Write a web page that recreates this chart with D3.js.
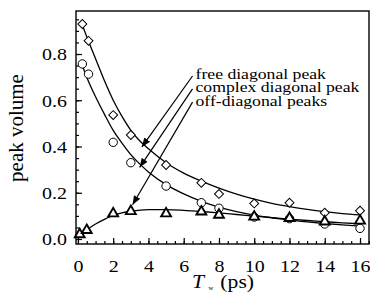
<!DOCTYPE html>
<html><head><meta charset="utf-8">
<script src="https://cdn.jsdelivr.net/npm/d3@7"></script>
<style>html,body{margin:0;padding:0;background:#fff;}svg{display:block;}</style>
</head><body>
<svg id="c" width="370" height="293"></svg>
<script>
// ---- data ----
const freeT   = [0.25, 0.6, 2, 3, 5, 7, 8, 10, 12, 14, 16];
const freeV   = [0.93, 0.857, 0.536, 0.45, 0.32, 0.243, 0.195, 0.154, 0.157, 0.114, 0.122];
const cplxT   = [0.25, 0.6, 2, 3, 5, 7, 8, 10, 12, 14, 16];
const cplxV   = [0.757, 0.713, 0.418, 0.33, 0.229, 0.157, 0.133, 0.095, 0.088, 0.065, 0.046];
const offT    = [0.1, 0.5, 2, 3, 5, 7, 8, 10, 12, 14, 16];
const offV    = [0.02, 0.038, 0.11, 0.12, 0.11, 0.118, 0.104, 0.096, 0.09, 0.075, 0.079];
// fitted curves
const fitT     = [0.2, 0.5, 1, 1.5, 2, 2.5, 3, 3.5, 4, 5, 6, 7, 8, 9, 10, 11, 12, 13, 14, 15, 16];
const fitFree  = [0.935, 0.875, 0.78, 0.685, 0.6, 0.53, 0.47, 0.425, 0.39, 0.33, 0.285, 0.25, 0.22, 0.194, 0.172, 0.154, 0.14, 0.128, 0.118, 0.11, 0.104];
const fitCplx  = [0.76, 0.70, 0.615, 0.54, 0.47, 0.415, 0.365, 0.325, 0.29, 0.235, 0.195, 0.163, 0.138, 0.118, 0.103, 0.092, 0.082, 0.074, 0.067, 0.061, 0.056];
const fitOffT  = [0.05, 0.5, 1, 1.5, 2, 2.5, 3, 4, 5, 6, 7, 8, 9, 10, 11, 12, 13, 14, 15, 16];
const fitOff   = [0.015, 0.04, 0.065, 0.085, 0.102, 0.113, 0.12, 0.127, 0.127, 0.124, 0.119, 0.113, 0.106, 0.099, 0.092, 0.086, 0.08, 0.075, 0.07, 0.066];
// annotations: label, arrow start (T, v), arrow tip (T, v)
const labels   = ["free diagonal peak", "complex diagonal peak", "off-diagonal peaks"];
const arrowFrom = [[6.5, 0.705], [6.5, 0.649], [6.5, 0.592]];
const arrowTo   = [[3.63, 0.398], [3.5, 0.31], [3.1, 0.148]];
const xTicks = [0, 2, 4, 6, 8, 10, 12, 14, 16];
const yTicks = [0.0, 0.2, 0.4, 0.6, 0.8];

// ---- drawing ----
const svg = d3.select("#c");
const L = 76, R = 369, T0 = 11, B = 244;
const x = d3.scaleLinear().domain([-0.11, 16.51]).range([L, R]);
const y = d3.scaleLinear().domain([-0.0216, 0.986]).range([B, T0]);
const font = "'Liberation Serif','Times New Roman',serif";
const SX = 1.14; // horizontal stretch of the lettering

svg.append("rect").attr("width",370).attr("height",293).attr("fill","#fff");

// axes with inward ticks
const xMinor = d3.range(0, 16.51, 0.5);
const yMinor = d3.range(0, 0.96, 0.05);
const gx = svg.append("g").attr("transform",`translate(0,${B})`);
gx.call(d3.axisBottom(x).tickValues(xMinor).tickSize(-3).tickFormat(""));
gx.select(".domain").remove();
const gx2 = svg.append("g").attr("transform",`translate(0,${B})`);
gx2.call(d3.axisBottom(x).tickValues(xTicks).tickSize(-6).tickFormat(d3.format("d")));
gx2.select(".domain").remove();
gx2.selectAll(".tick text").attr("font-family",font).attr("font-size",17.5).attr("fill","#000")
  .attr("y",0).attr("dy",0).attr("transform",`translate(0,28) scale(${SX},1)`);

const gy = svg.append("g").attr("transform",`translate(${L},0)`);
gy.call(d3.axisLeft(y).tickValues(yMinor).tickSize(-3).tickFormat(""));
gy.select(".domain").remove();
const gy2 = svg.append("g").attr("transform",`translate(${L},0)`);
gy2.call(d3.axisLeft(y).tickValues(yTicks).tickSize(-6).tickFormat(d3.format(".1f")));
gy2.select(".domain").remove();
gy2.selectAll(".tick text").attr("font-family",font).attr("font-size",17.5).attr("fill","#000")
  .attr("x",0).attr("dy","0.34em").attr("transform",`translate(-9,0) scale(${SX},1)`);
svg.selectAll(".tick line").attr("stroke","#000").attr("stroke-width",1.2);

// frame
svg.append("rect").attr("x",L).attr("y",T0).attr("width",R-L).attr("height",B-T0)
  .attr("fill","none").attr("stroke","#000").attr("stroke-width",1.4);

// fit curves
const line = d3.line().x(d=>x(d[0])).y(d=>y(d[1])).curve(d3.curveMonotoneX);
const plot = svg.append("g");
plot.append("path").attr("d", line(fitT.map((t,i)=>[t, fitFree[i]]))).attr("fill","none").attr("stroke","#000").attr("stroke-width",1.3);
plot.append("path").attr("d", line(fitT.map((t,i)=>[t, fitCplx[i]]))).attr("fill","none").attr("stroke","#000").attr("stroke-width",1.3);
plot.append("path").attr("d", line(fitOffT.map((t,i)=>[t, fitOff[i]]))).attr("fill","none").attr("stroke","#000").attr("stroke-width",1.3);

// markers
const sym = (type,size)=>d3.symbol().type(type).size(size)();
const pts = (T,V)=>T.map((t,i)=>[t,V[i]]);
plot.selectAll(".dia").data(pts(freeT,freeV)).join("path")
  .attr("d", sym(d3.symbolSquare,40)).attr("transform",d=>`translate(${x(d[0])},${y(d[1])}) rotate(45)`)
  .attr("fill","#fff").attr("stroke","#000").attr("stroke-width",1);
plot.selectAll(".cir").data(pts(cplxT,cplxV)).join("circle")
  .attr("cx",d=>x(d[0])).attr("cy",d=>y(d[1])).attr("r",4.2)
  .attr("fill","#fff").attr("stroke","#000").attr("stroke-width",1);
plot.selectAll(".tri").data(pts(offT,offV)).join("path")
  .attr("d", sym(d3.symbolTriangle,42)).attr("transform",d=>`translate(${x(d[0])},${y(d[1])})`)
  .attr("fill","#fff").attr("stroke","#000").attr("stroke-width",1.9);

// arrows
svg.append("defs").append("marker").attr("id","ah").attr("viewBox","0 0 10 10")
  .attr("refX",10).attr("refY",5).attr("markerWidth",9).attr("markerHeight",9)
  .attr("markerUnits","userSpaceOnUse").attr("orient","auto")
  .append("path").attr("d","M0,1 L10,5 L0,9 Z").attr("fill","#000");
labels.forEach((lab,i)=>{
  const a = arrowFrom[i], b = arrowTo[i];
  svg.append("line").attr("x1",x(a[0])).attr("y1",y(a[1])).attr("x2",x(b[0])).attr("y2",y(b[1]))
    .attr("stroke","#000").attr("stroke-width",1.2).attr("marker-end","url(#ah)");
  svg.append("text").attr("transform",`translate(${x(a[0])+3},${y(a[1])+3.5}) scale(${SX},1)`).text(lab)
    .attr("font-family",font).attr("font-size",15.5).attr("fill","#000");
});

// axis titles
svg.append("text").attr("transform","translate(23,128) rotate(-90)").attr("text-anchor","middle")
  .attr("font-family",font).attr("font-size",21).text("peak volume");
const xt = svg.append("text").attr("transform",`translate(192,288) scale(${SX},1)`)
  .attr("font-family",font).attr("font-size",19);
xt.append("tspan").attr("font-style","italic").text("T");
xt.append("tspan").attr("font-size",6).attr("dy",2).attr("dx",4).text("w");
xt.append("tspan").attr("dy",-2).attr("dx",6).text("(ps)");
</script>
</body></html>
